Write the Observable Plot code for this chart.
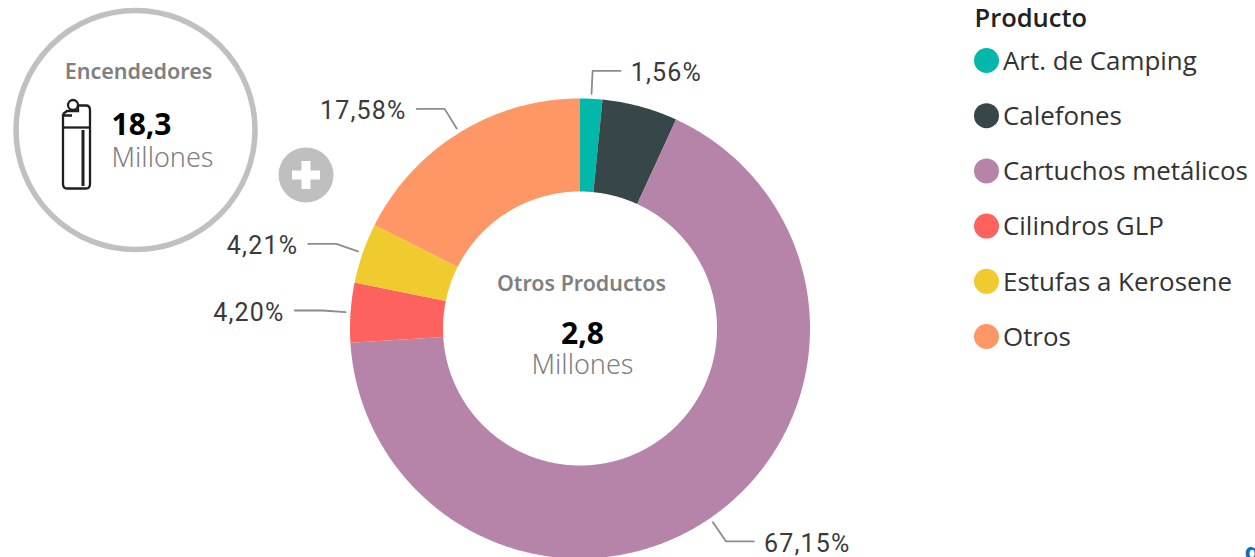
<!DOCTYPE html>
<html><head><meta charset="utf-8">
<script src="https://cdn.jsdelivr.net/npm/d3@7"></script>
<script src="https://cdn.jsdelivr.net/npm/@observablehq/plot@0.6"></script>
<style>html,body{margin:0;padding:0;background:#fff;overflow:hidden}svg{display:block}</style>
</head><body><div id="chart"></div>
<script>
const categories = ["Art. de Camping","Calefones","Cartuchos metálicos","Cilindros GLP","Estufas a Kerosene","Otros"];
const shares = [1.56,5.30,67.15,4.20,4.21,17.58];
const shownLabels = ["1,56%",null,"67,15%","4,20%","4,21%","17,58%"];
const palette = ["#01B8AA","#374649","#B784A9","#FD625E","#F0CB2F","#FE9666"];
const legendTitle = "Producto";
const centerTitle = "Otros Productos", centerValue = "2,8", unit = "Millones";
const sideTitle = "Encendedores", sideValue = "18,3";
const cutOffText = "q";

const R = 230, r0 = 137, rA = 235, rB = 258, run = 28, gap = 10;
const pieData = d3.pie().sort(null).value(d => d)(shares);
const polar = (rad, a) => [rad * Math.sin(a), -rad * Math.cos(a)];
const slices = [];
pieData.forEach((p, i) => {
  const n = Math.max(4, Math.ceil((p.endAngle - p.startAngle) / 0.008));
  const ang = k => p.startAngle + (p.endAngle - p.startAngle) * k / n;
  for (let k = 0; k <= n; k++) { const [x,y] = polar(R, ang(k)); slices.push({name:categories[i],x,y}); }
  for (let k = n; k >= 0; k--) { const [x,y] = polar(r0, ang(k)); slices.push({name:categories[i],x,y}); }
});
const leaders = [], labels = [];
pieData.forEach((p, i) => {
  if (!shownLabels[i]) return;
  const a = (p.startAngle + p.endAngle) / 2;
  const dir = Math.sin(a) >= 0 ? 1 : -1;
  const [x1,y1] = polar(rA, a), [x2,y2] = polar(rB, a);
  const x3 = x2 + dir * run;
  leaders.push({k:i,x:x1,y:y1},{k:i,x:x2,y:y2},{k:i,x:x3,y:y2});
  labels.push({t:shownLabels[i],x:x3 + dir * gap,y:y2+2.500,dir});
});
// page-pixel helper: the scales are centred on the ring
const cx = 579.5, cy = 328;
const P = (x,y) => ({x:x-cx,y:y-cy});
const T = (px,py,t,o) => Plot.text([{...P(px,py),t}],{x:"x",y:"y",text:"t",fontFamily:"'Noto Sans'",...o});
const legendRows = categories.map((name,i) => ({name,...P(986,60+i*55.2)}));
const labelFont = "Roboto", legendFont = "'Open Sans'";
const labelStyle = {x:"x",y:"y",text:"t",fontFamily:labelFont,fontSize:25,fill:"#3a3a3a"};

const icon = () => {
  const g = d3.create("svg:g").attr("fill","none").attr("stroke","#1f1f1f").attr("stroke-width",2.300);
  g.append("path").attr("d","M63 114V184q0 4.500 4 4.500H86q4 0 4-4.500V110q0-4.500-4-4.500H78");
  g.append("circle").attr("cx",73).attr("cy",105).attr("r",5);
  g.append("path").attr("d","M63 114L67 111H78V106M63 115.500H72");
  g.append("path").attr("d","M63 127.500H90");
  g.append("path").attr("d","M83 130V186").attr("stroke-width",3);
  return g.node();
};

const plot = Plot.plot({
  width:1255,height:557,margin:0,
  x:{domain:[-cx,1255-cx],range:[0,1255],axis:null},
  y:{domain:[-cy,557-cy],range:[0,557],axis:null},
  color:{domain:categories,range:palette},
  style:{background:"#fff"},
  marks:[
    Plot.line(slices,{x:"x",y:"y",z:"name",fill:"name",stroke:"none"}),
    Plot.line(leaders,{x:"x",y:"y",z:"k",stroke:"#8c8c8c",strokeWidth:1.8,curve:"linear"}),
    Plot.text(labels.filter(d=>d.dir>0),{...labelStyle,textAnchor:"start"}),
    Plot.text(labels.filter(d=>d.dir<0),{...labelStyle,textAnchor:"end"}),
    T(581,284,centerTitle,{fontSize:21.400,fontWeight:600,fill:"#7f7f7f"}),
    T(582,334,centerValue,{fontSize:30,fontWeight:700,fill:"#000"}),
    T(582,365,unit,{fontSize:27,fill:"#808080",fontWeight:300}),
    Plot.dot([P(135,129.500)],{x:"x",y:"y",r:119.500,stroke:"#c0c0c0",strokeWidth:5.500,fill:"#fff"}),
    T(138,72,sideTitle,{fontSize:21.500,fontWeight:600,fill:"#7f7f7f"}),
    T(141,125,sideValue,{fontSize:30,fontWeight:700,fill:"#000"}),
    T(162,158,unit,{fontSize:27,fill:"#808080",fontWeight:300}),
    icon,
    Plot.dot([P(305.500,174.500)],{x:"x",y:"y",r:27.500,fill:"#bfbfbf",stroke:"none"}),
    Plot.line([P(291.500,174.500),P(319.500,174.500)],{x:"x",y:"y",stroke:"#fff",strokeWidth:9,strokeLinecap:"butt"}),
    Plot.line([P(305.500,160.500),P(305.500,188.500)],{x:"x",y:"y",stroke:"#fff",strokeWidth:9,strokeLinecap:"butt"}),
    T(974,18,legendTitle,{fontFamily:legendFont,fontSize:25.500,fontWeight:600,fill:"#222",textAnchor:"start"}),
    Plot.dot(legendRows,{x:"x",y:"y",r:12.500,fill:"name",stroke:"none"}),
    Plot.text(legendRows,{x:d=>d.x+16.500,y:d=>d.y+1,text:"name",textAnchor:"start",fontFamily:legendFont,fontSize:25.900,fill:"#333"}),
    T(1244,552,cutOffText,{fontSize:24,fontWeight:700,fill:"#0a6ebd",textAnchor:"start"})
  ]
});
d3.select(plot).selectAll("text").filter(function(){return shownLabels.includes(this.textContent)}).style("letter-spacing","1.2px");
document.getElementById("chart").append(plot);
</script></body></html>
